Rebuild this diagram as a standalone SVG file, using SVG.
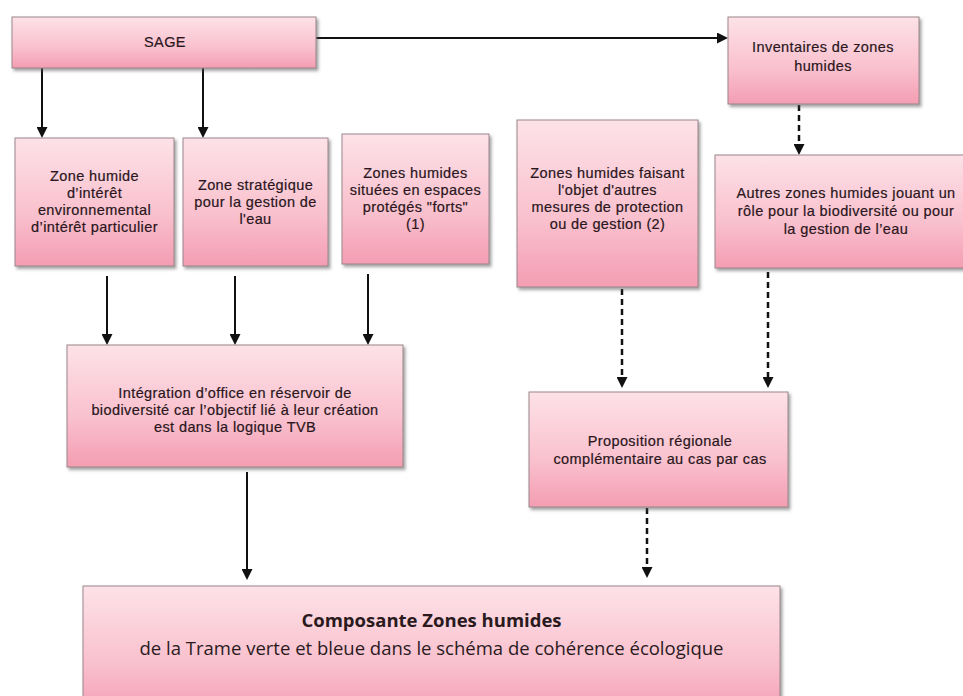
<svg xmlns="http://www.w3.org/2000/svg" width="963" height="696" viewBox="0 0 963 696">
<defs>
<linearGradient id="pink" x1="0" y1="0" x2="0" y2="1">
<stop offset="0" stop-color="#fde2e8"/>
<stop offset="0.6" stop-color="#f9c0cd"/>
<stop offset="1" stop-color="#f49db2"/>
</linearGradient>
<filter id="sh" x="-5%" y="-5%" width="115%" height="125%">
<feDropShadow dx="2" dy="2.5" stdDeviation="1.5" flood-color="#555" flood-opacity="0.55"/>
</filter>
<marker id="ah" viewBox="0 0 10 10" refX="0" refY="5" markerWidth="11" markerHeight="11" markerUnits="userSpaceOnUse" orient="auto">
<path d="M0,0 L10,5 L0,10 z" fill="#111"/>
</marker>
<style>
.box{fill:url(#pink);stroke:#9a868c;stroke-width:1;filter:url(#sh)}
.t{font-family:"Liberation Sans",Arial,sans-serif;font-size:14.5px;letter-spacing:0.4px;fill:#2a161c;stroke:#2a161c;stroke-width:0.2;text-anchor:middle}
.big{font-family:"Open Sans","Liberation Sans",sans-serif;font-size:18.5px;fill:#2a1a1e;text-anchor:middle}
.solid{stroke:#111;stroke-width:2;fill:none;marker-end:url(#ah)}
.dash{stroke:#111;stroke-width:2.5;fill:none;stroke-dasharray:6,4;marker-end:url(#ah)}
</style>
</defs>
<rect width="963" height="696" fill="#ffffff"/>

<g id="connectors">
<path class="solid" d="M316,38 L717,38"/>
<path class="solid" d="M42,68 L42,127"/>
<path class="solid" d="M203,68 L203,127"/>
<path class="solid" d="M107,276 L107,334"/>
<path class="solid" d="M235,276 L235,334"/>
<path class="solid" d="M368,274 L368,334"/>
<path class="solid" d="M247,472 L247,569"/>
<path class="dash" d="M799,105 L799,144"/>
<path class="dash" d="M622,289 L622,377"/>
<path class="dash" d="M768,272 L768,377"/>
<path class="dash" d="M647,508 L647,567"/>
</g>

<g id="sage">
<rect class="box" x="12" y="17" width="304" height="51"/>
<text class="t" x="165" y="47">SAGE</text>
</g>

<g id="inventaires">
<rect class="box" x="728" y="17" width="191" height="87"/>
<text class="t" x="823" y="52">Inventaires de zones</text>
<text class="t" x="823" y="71">humides</text>
</g>

<g id="zone-humide-interet">
<rect class="box" x="15" y="138" width="159" height="128"/>
<text class="t" x="94.5" y="181">Zone humide</text>
<text class="t" x="94.5" y="198">d’intérêt</text>
<text class="t" x="94.5" y="215">environnemental</text>
<text class="t" x="94.5" y="232">d’intérêt particulier</text>
</g>

<g id="zone-strategique">
<rect class="box" x="183" y="138" width="145" height="128"/>
<text class="t" x="255.5" y="190">Zone stratégique</text>
<text class="t" x="255.5" y="207">pour la gestion de</text>
<text class="t" x="255.5" y="224">l'eau</text>
</g>

<g id="espaces-proteges">
<rect class="box" x="342" y="134" width="147" height="130"/>
<text class="t" x="415.5" y="178">Zones humides</text>
<text class="t" x="415.5" y="195">situées en espaces</text>
<text class="t" x="415.5" y="212">protégés "forts"</text>
<text class="t" x="415.5" y="229">(1)</text>
</g>

<g id="autres-mesures">
<rect class="box" x="517" y="120" width="181" height="167"/>
<text class="t" x="607.5" y="178">Zones humides faisant</text>
<text class="t" x="607.5" y="195">l'objet d'autres</text>
<text class="t" x="607.5" y="212">mesures de protection</text>
<text class="t" x="607.5" y="229">ou de gestion (2)</text>
</g>

<g id="autres-zones">
<rect class="box" x="715" y="155" width="262" height="113"/>
<text class="t" x="846" y="198">Autres zones humides jouant un</text>
<text class="t" x="846" y="216">rôle pour la biodiversité ou pour</text>
<text class="t" x="846" y="234">la gestion de l’eau</text>
</g>

<g id="integration">
<rect class="box" x="67" y="345" width="336" height="122"/>
<text class="t" x="235" y="398">Intégration d’office en réservoir de</text>
<text class="t" x="235" y="415">biodiversité car l’objectif lié à leur création</text>
<text class="t" x="235" y="432">est dans la logique TVB</text>
</g>

<g id="proposition">
<rect class="box" x="529" y="392" width="259" height="115"/>
<text class="t" x="660" y="446">Proposition régionale</text>
<text class="t" x="660" y="464">complémentaire au cas par cas</text>
</g>

<g id="composante">
<rect class="box" x="83" y="586" width="697" height="130"/>
<text class="big" x="431.5" y="627" font-weight="bold">Composante Zones humides</text>
<text class="big" x="431.5" y="655">de la Trame verte et bleue dans le schéma de cohérence écologique</text>
</g>
</svg>
